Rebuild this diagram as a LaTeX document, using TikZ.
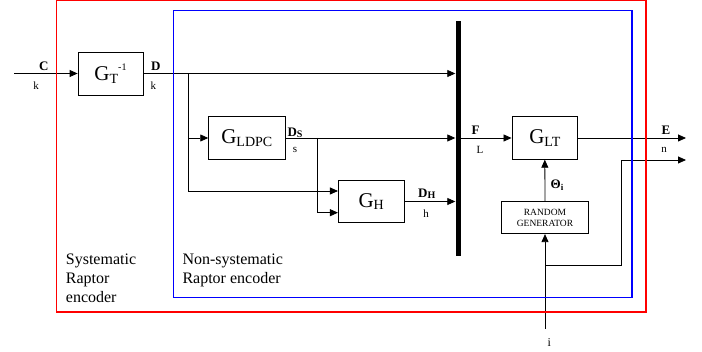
\documentclass[tikz,border=0pt]{standalone}
\usepackage{fontspec}
\setmainfont{Liberation Serif}
\usetikzlibrary{arrows.meta}
\newcommand{\Gsub}[1]{{\fontsize{21}{21}\selectfont G\raisebox{-2.5pt}{\fontsize{14}{14}\selectfont #1}}}
\newcommand{\bsub}[2]{#1\raisebox{-1pt}{\fontsize{10}{10}\selectfont #2}}
\begin{document}
\begin{tikzpicture}[x=1pt,y=-1pt,
  blk/.style={draw, line width=0.8pt, inner sep=0pt},
  con/.style={line width=0.8pt, -{Triangle[length=8pt,width=7pt]}},
  lab/.style={inner sep=0pt, font=\fontsize{13}{13}\selectfont\bfseries},
  sm/.style={inner sep=0pt, font=\fontsize{11}{11}\selectfont},
  txt/.style={inner sep=0pt, align=left, font=\fontsize{16}{19}\selectfont}]
\useasboundingbox (0,0) rectangle (702,352);
% blocks
\node[blk, minimum width=65pt, minimum height=43pt] (gt) at (110.5,73.5)
  {{\fontsize{21}{21}\selectfont G\raisebox{-2.7pt}{\fontsize{14}{14}\selectfont T}\raisebox{10pt}{\fontsize{10}{10}\selectfont -1}}};
\node[blk, minimum width=76.3pt, minimum height=42.3pt] (gldpc) at (246.8,138) {\Gsub{LDPC}};
\node[blk, minimum width=65.7pt, minimum height=42.4pt] (gh) at (371.2,201.5) {\Gsub{H}};
\node[blk, minimum width=65.7pt, minimum height=42.6pt] (glt) at (544.8,138) {\Gsub{LT}};
\node[blk, minimum width=86.6pt, minimum height=32pt, align=center, font=\fontsize{9.5}{11}\selectfont] (rg) at (545,217.7) {RANDOM\\GENERATOR};
\node[fill=black, inner sep=0pt, minimum width=5pt, minimum height=235pt] (bar) at (458,138.5) {};
% coordinates
\coordinate (cin) at (14,73.5);
\coordinate (br1) at (188,73.5);
\coordinate (br1b) at (188,191);
\coordinate (br2) at (317,138);
\coordinate (br2b) at (317,212.7);
\coordinate (eout) at (686,138);
\coordinate (nout) at (686,160);
\coordinate (nturn) at (621.7,160);
\coordinate (ijoin) at (545,265.7);
\coordinate (iin) at (545,329);
% connectors
\draw[con] (cin) -- (gt.west);
\draw[con] (gt.east) -- (bar.west |- gt.east);
\draw[con] (br1) |- (gldpc.west);
\draw[con] (br1) |- (gh.west |- br1b);
\draw[con] (gldpc.east) -- (bar.west |- gldpc.east);
\draw[con] (br2) |- (gh.west |- br2b);
\draw[con] (gh.east) -- (bar.west |- gh.east);
\draw[con] (bar.east |- glt.west) -- (glt.west);
\draw[con] (glt.east) -- (eout);
\draw[con] (ijoin) -| (nturn) -- (nout);
\draw[con] (iin) -- (rg.south);
\draw[con] (rg.north) -- (glt.south);
% labels
\node[lab] (lc) at (43.8,66.7) {C};
\node[sm] (lk1) at (36,85.3) {k};
\node[lab] (ld) at (155.8,66.7) {D};
\node[sm] (lk2) at (153.3,85.3) {k};
\node[lab] (lds) at (295,132.7) {\bsub{D}{S}};
\node[sm] (ls) at (295,150) {s};
\node[lab] (ldh) at (426.7,194) {\bsub{D}{H}};
\node[sm] (lh) at (426,213.3) {h};
\node[lab] (lf) at (475.7,130) {F};
\node[sm] (ll) at (480,149.7) {L};
\node[lab] (le) at (666,130) {E};
\node[sm] (ln) at (664,149.7) {n};
\node[lab] (lth) at (557,185) {Θ\raisebox{-1.5pt}{\fontsize{9}{9}\selectfont i}};
\node[inner sep=0pt, font=\fontsize{12}{12}\selectfont] (li) at (549.3,343) {i};
\node[txt, anchor=north west] (sysl) at (65.7,253.5) {Systematic\\Raptor\\encoder};
\node[txt, anchor=north west] (nsysl) at (182.3,253.5) {Non-systematic\\Raptor encoder};
% enclosures
\draw[red, line width=1.3pt] (56.7,0.5) rectangle (646,312);
\draw[blue, line width=1.3pt] (173.7,10.5) rectangle (632,297.7);
\end{tikzpicture}
\end{document}
